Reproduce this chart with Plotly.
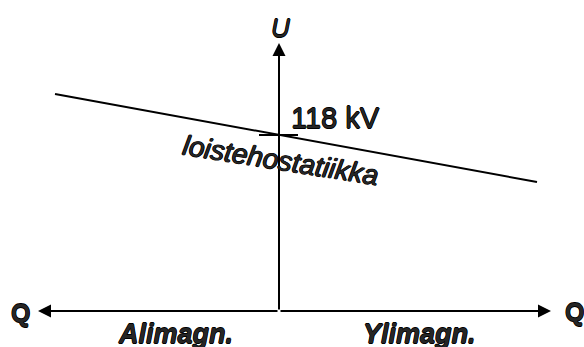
"""
Loistehostatiikka: jännite U loistehon Q funktiona (kaavio)
"""

import plotly.graph_objects as go

# Akseleiden päät (Q vasen/oikea, U ylös), origo = akselien leikkaus
axis_q = [-241, 272]
axis_u_top = 268

# Statiikkasuora: Q- ja U-arvot (päätepisteet)
statiikka_q = [-224, 258]
statiikka_u = [217, 129]

# Asetusarvo 118 kV pystyakselilla
setpoint_label = "118 kV"
setpoint_u = 176
setpoint_tick_q = [-20, 19]

# Tekstit
axis_labels = ["Q", "Q", "U"]
side_labels = ["Alimagn.", "Ylimagn."]
curve_label = "loistehostatiikka"

FONT = "Liberation Sans, Arial, sans-serif"
INK = "#262626"
# ohut ääriviiva teksteihin
OUTLINE = "0.6px 0 0 #000, -0.6px 0 0 #000, 0 0.6px 0 #000, 0 -0.6px 0 #000"


def font(size):
    return dict(family=FONT, size=size, color=INK, shadow=OUTLINE)


fig = go.Figure()

# Statiikkasuora
fig.add_trace(go.Scatter(
    x=statiikka_q, y=statiikka_u, mode="lines",
    line=dict(color="black", width=2), hoverinfo="skip"
))

# Asetusarvon merkki
fig.add_trace(go.Scatter(
    x=setpoint_tick_q, y=[setpoint_u, setpoint_u], mode="lines",
    line=dict(color="black", width=2), hoverinfo="skip"
))

# Akselit nuolina origosta
arrows = [(axis_q[0], 0), (axis_q[1], 0), (0, axis_u_top)]
for x_end, y_end in arrows:
    fig.add_annotation(
        x=x_end, y=y_end, ax=0, ay=0, xref="x", yref="y", axref="x", ayref="y",
        text="", showarrow=True, arrowhead=2, arrowsize=1.3, arrowwidth=2,
        arrowcolor="black"
    )

# Akselien nimet
fig.add_annotation(x=-259, y=-2, text="<b>" + axis_labels[0] + "</b>", showarrow=False,
                   font=font(25))
fig.add_annotation(x=295, y=-1, text="<b>" + axis_labels[1] + "</b>", showarrow=False,
                   font=font(25))
fig.add_annotation(x=1, y=283, text="<i>" + axis_labels[2] + "</i>", showarrow=False,
                   font=font(26))

# Ali-/ylimagnetointi (alareuna leikkautuu kuten alkuperäisessä)
fig.add_annotation(x=-104, y=-23, text="<b><i>" + side_labels[0] + "</i></b>", showarrow=False,
                   font=font(27))
fig.add_annotation(x=140, y=-23, text="<b><i>" + side_labels[1] + "</i></b>", showarrow=False,
                   font=font(27))

# 118 kV
fig.add_annotation(x=10, y=193, text=setpoint_label, showarrow=False, xanchor="left",
                   font=font(29))

# Käyrän nimi
fig.add_annotation(x=2, y=151, text="<i>" + curve_label + "</i>", showarrow=False,
                   textangle=9, font=font(28))

fig.update_layout(
    width=584, height=347,
    margin=dict(l=0, r=0, t=0, b=0),
    paper_bgcolor="white", plot_bgcolor="white",
    showlegend=False,
    xaxis=dict(range=[-279, 305], visible=False, fixedrange=True),
    yaxis=dict(range=[-36, 311], visible=False, fixedrange=True),
)

fig.write_html("out.html", config={"displayModeBar": False},
               post_script="document.body.style.margin='0';")
